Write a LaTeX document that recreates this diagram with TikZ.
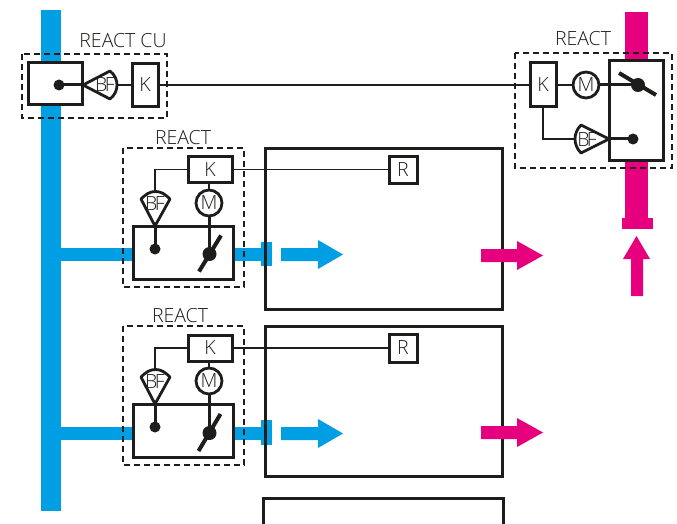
\documentclass[tikz,border=0pt]{standalone}
\usepackage{fontspec}
\setmainfont{Open Sans Light}
\usetikzlibrary{calc}
\definecolor{busblue}{HTML}{009FE3}
\definecolor{buspink}{HTML}{E6007E}
\definecolor{ink}{HTML}{1D1D1B}
\tikzset{
  x=1pt,y=-1pt,
  every node/.style={inner sep=0pt,outer sep=0pt,text=ink},
  title/.style={font=\fontsize{19.5}{22}\selectfont},
  boxlabel/.style={draw=ink,line width=3pt,fill=white,font=\fontsize{19.5}{22}\selectfont},
  valvebox/.style={draw=ink,line width=3pt,fill=white},
  plant/.style={draw=ink,line width=3pt},
  group/.style={draw=ink,line width=1.3pt,dash pattern=on 6pt off 4pt},
  sig/.style={draw=ink,line width=1.2pt},
  shaftline/.style={draw=ink,line width=3pt},
  gaugeshape/.style={draw=ink,line width=2.8pt,fill=white,line join=round},
  gaugetext/.style={font=\fontsize{19.5}{22}\selectfont},
  motor/.style={circle,draw=ink,line width=2.8pt,fill=white,minimum size=26pt,font=\fontsize{19.5}{22}\selectfont},
  dotbig/.style={circle,fill=ink,minimum size=14pt},
  dotsmall/.style={circle,fill=ink,minimum size=11pt},
  blue/.style={fill=busblue},
  pink/.style={fill=buspink},
}
\begin{document}
\begin{tikzpicture}
\useasboundingbox (0,0) rectangle (677,524);
\fill[white] (0,0) rectangle (677,524);
% buses
\fill[blue] (41,10) rectangle (61,511);
\fill[blue] (61,248) rectangle (262,261);
\fill[blue] (61,427) rectangle (262,440);
\fill[blue] (261,242) rectangle (272,266);
\fill[blue] (261,420) rectangle (272,445);
\fill[pink] (625,12) rectangle (648,219);
\fill[pink] (622,218) rectangle (653,229);
% plant boxes
\node[plant,minimum width=237pt,minimum height=161pt] (plantA) at (383.5,228.5) {};
\node[plant,minimum width=237pt,minimum height=150pt] (plantB) at (383.5,401) {};
\draw[plant] (263.5,524) -- (263.5,498) -- (503,498) -- (503,524);
% arrows
\fill[blue] (281,248) -- (318,248) -- (318,240) -- (343,254.5) -- (318,269) -- (318,261) -- (281,261) -- cycle;
\fill[blue] (281,427) -- (318,427) -- (318,419) -- (343,433.5) -- (318,448) -- (318,440) -- (281,440) -- cycle;
\fill[pink] (481,249) -- (517,249) -- (517,241) -- (543,255.5) -- (517,270) -- (517,262) -- (481,262) -- cycle;
\fill[pink] (481,426) -- (517,426) -- (517,418) -- (543,432.5) -- (517,447) -- (517,439) -- (481,439) -- cycle;
\fill[pink] (631,296) -- (631,259) -- (623,259) -- (636.5,236) -- (650,259) -- (643,259) -- (643,296) -- cycle;
% dashed groups
\draw[group] (22,54) rectangle (167,118);
\draw[group] (123,148) rectangle (244,287);
\draw[group] (123,326) rectangle (244,465);
\draw[group] (515,53) rectangle (672,168);
% titles
\node[title] (tCU) at (123,41) {REACT CU};
\node[title] (tA) at (183,138) {REACT};
\node[title] (tB) at (180,316) {REACT};
\node[title] (tR) at (583,39) {REACT};
% valve boxes
\node[valvebox,minimum width=54pt,minimum height=42pt] (vCU) at (55,84) {};
\node[valvebox,minimum width=100pt,minimum height=53pt] (vA) at (183,252.5) {};
\node[valvebox,minimum width=100pt,minimum height=53pt] (vB) at (183,431) {};
\node[valvebox,minimum width=54pt,minimum height=99pt] (vR) at (636,110.5) {};
% controllers
\node[boxlabel,minimum width=26pt,minimum height=43pt] (kCU) at (145,85) {K};
\node[boxlabel,minimum width=44pt,minimum height=26pt] (kA) at (210,169.5) {K};
\node[boxlabel,minimum width=44pt,minimum height=26pt] (kB) at (210,348) {K};
\node[boxlabel,minimum width=26pt,minimum height=44pt] (kR) at (543,85) {K};
\node[boxlabel,minimum width=28pt,minimum height=27pt] (rA) at (403,169.5) {R};
\node[boxlabel,minimum width=28pt,minimum height=28pt] (rB) at (403,348) {R};
% gauge tips and joints
\coordinate (gCUtip) at (83,85);
\coordinate (gCUend) at (117,85);
\coordinate (gAtip) at (155,226);
\coordinate (gAend) at (155,191);
\coordinate (gBtip) at (155,404);
\coordinate (gBend) at (155,370);
\coordinate (gRtip) at (609,139);
\coordinate (gRend) at (575,139);
% signal lines
\draw[sig] (gCUend) -- (kCU);
\draw[sig] (kCU) -- (kR);
\draw[sig] (kA) -- (rA);
\draw[sig] (kB) -- (rB);
\draw[sig] (kA.west) -| (gAend);
\draw[sig] (kB.west) -| (gBend);
\draw[sig] (kR.south) |- (gRend);
% gauges
\path[gaugeshape] (83,85) -- (110,71) .. controls (115,75) and (117,80) .. (117,85) .. controls (117,90) and (115,95) .. (110,99) -- cycle;
\node[gaugetext] (bfCU) at (105,85) {B\kern-2.5pt F};
\path[gaugeshape] (155,226) -- (141,199) .. controls (146,194) and (150,191.5) .. (155.5,191.5) .. controls (161,191.5) and (165,194) .. (170,199) -- cycle;
\node[gaugetext] (bfA) at (155,204) {B\kern-2.5pt F};
\path[gaugeshape] (155,404) -- (141,377) .. controls (146,372) and (150,369.5) .. (155.5,369.5) .. controls (161,369.5) and (165,372) .. (170,377) -- cycle;
\node[gaugetext] (bfB) at (155,382) {B\kern-2.5pt F};
\path[gaugeshape] (609,139) -- (581,125) .. controls (577,129) and (575,134) .. (575,139) .. controls (575,144) and (577,149) .. (581,153) -- cycle;
\node[gaugetext] (bfR) at (587,140) {B\kern-2.5pt F};
% motors
\node[motor] (mA) at (209,203) {M};
\node[motor] (mB) at (209,381) {M};
\node[motor] (mR) at (586,85) {M};
\draw[sig] (kA.south -| mA) -- (mA);
\draw[sig] (kB.south -| mB) -- (mB);
\draw[sig] (kR) -- (mR);
% dots
\node[dotsmall] (dCU) at (59,85) {};
\node[dotsmall] (dA) at (155,249) {};
\node[dotsmall] (dB) at (155,427) {};
\node[dotsmall] (dR) at (633,139) {};
\node[dotbig] (dmA) at (209.5,254) {};
\node[dotbig] (dmB) at (209.5,433) {};
\node[dotbig] (dmR) at (638,85) {};
% shafts
\draw[shaftline] (dCU.center) -- (gCUtip);
\draw[shaftline] (gAtip) -- (dA.center);
\draw[shaftline] (gBtip) -- (dB.center);
\draw[shaftline] (gRtip) -- (dR.center);
\draw[shaftline] (mA.south) -- (mA.south |- dmA.center);
\draw[shaftline] (mB.south) -- (mB.south |- dmB.center);
\draw[shaftline] (mR) -- (dmR.center);
% flaps
\draw[draw=ink,line width=4pt] (199,271.5) -- (221,235.5);
\draw[draw=ink,line width=4pt] (198.5,451) -- (220.5,414);
\draw[draw=ink,line width=4pt] (619,73) -- (656,95);
\end{tikzpicture}
\end{document}
